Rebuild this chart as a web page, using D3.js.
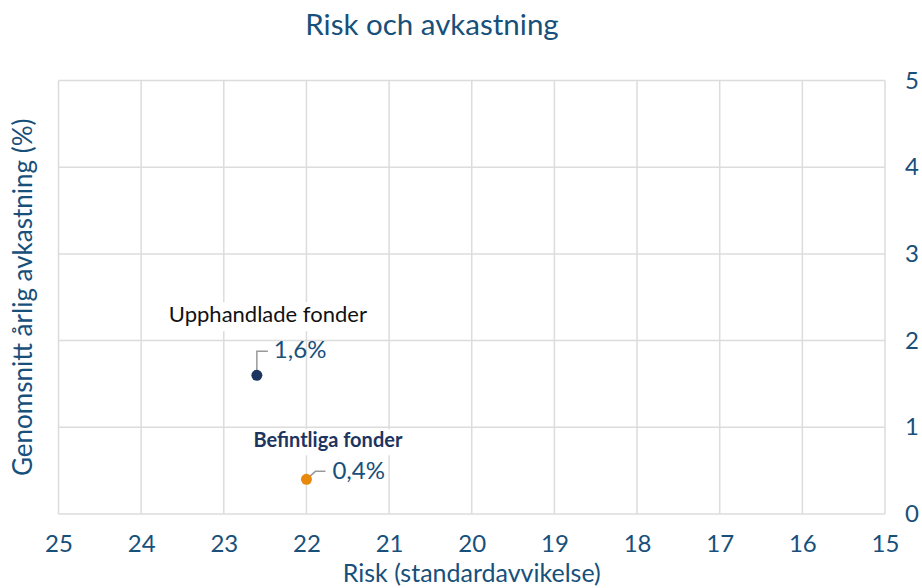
<!DOCTYPE html>
<html>
<head>
<meta charset="utf-8">
<script src="https://cdn.jsdelivr.net/npm/d3@7"></script>
<style>
  body { margin: 0; background: #fff; }
  text { font-family: Lato, "Noto Sans", sans-serif; }
</style>
</head>
<body>
<div id="chart"></div>
<script>
// Data
const funds   = ["Upphandlade fonder", "Befintliga fonder"];
const risk    = [22.6, 22.0];
const returns = [1.6, 0.4];
const valueLabels = ["1,6%", "0,4%"];
const xTicks = [25, 24, 23, 22, 21, 20, 19, 18, 17, 16, 15];
const yTicks = [0, 1, 2, 3, 4, 5];

const width  = 922;
const height = 588;
const margin = { top: 80.5, right: 37, bottom: 74, left: 58.5 };

const textColour = "#17507a";
const gridColour = "#dcdcdc";
const dotColours = ["#1d3461", "#e8890c"];

const svg = d3.select("#chart")
  .append("svg")
  .attr("width", width)
  .attr("height", height);

const x = d3.scaleLinear()
  .domain([25, 15])
  .range([margin.left, width - margin.right]);

const y = d3.scaleLinear()
  .domain([0, 5])
  .range([height - margin.bottom, margin.top]);

// Grid
svg.append("g")
  .selectAll("line")
  .data(xTicks)
  .join("line")
    .attr("x1", d => x(d)).attr("x2", d => x(d))
    .attr("y1", y(0)).attr("y2", y(5))
    .attr("stroke", gridColour)
    .attr("stroke-width", 1.5);

svg.append("g")
  .selectAll("line")
  .data(yTicks)
  .join("line")
    .attr("x1", x(25)).attr("x2", x(15))
    .attr("y1", d => y(d)).attr("y2", d => y(d))
    .attr("stroke", gridColour)
    .attr("stroke-width", 1.5);

// Axes (labels only)
const xAxis = svg.append("g")
  .attr("transform", `translate(0, ${y(0)})`)
  .call(d3.axisBottom(x).tickValues(xTicks).tickSize(0).tickPadding(21).tickFormat(d3.format("d")));

const yAxis = svg.append("g")
  .attr("transform", `translate(${x(15)}, 0)`)
  .call(d3.axisRight(y).tickValues(yTicks).tickSize(0).tickPadding(20).tickFormat(d3.format("d")));

[xAxis, yAxis].forEach(a => {
  a.select(".domain").remove();
  a.selectAll("text")
    .attr("fill", textColour)
    .style("font-family", "Lato, sans-serif")
    .style("font-size", "24px");
});

// Titles
svg.append("text")
  .attr("x", 432).attr("y", 35)
  .attr("text-anchor", "middle")
  .attr("fill", textColour)
  .style("font-size", "29.5px")
  .text("Risk och avkastning");

svg.append("text")
  .attr("x", (x(25) + x(15)) / 2).attr("y", 582)
  .attr("text-anchor", "middle")
  .attr("fill", textColour)
  .style("font-size", "25px")
  .text("Risk (standardavvikelse)");

svg.append("text")
  .attr("transform", `translate(32, ${(y(0) + y(5)) / 2}) rotate(-90)`)
  .attr("text-anchor", "middle")
  .attr("fill", textColour)
  .style("font-size", "26px")
  .text("Genomsnitt årlig avkastning (%)");

// Annotations
const points = funds.map((f, i) => ({ name: f, risk: risk[i], ret: returns[i], label: valueLabels[i], colour: dotColours[i] }));

// Name labels with white box behind
const nameStyle = [
  { dx: -88, dy: -53, size: "22px", weight: 400, fill: "#111" },
  { dx: -53, dy: -32, size: "20px", weight: 700, fill: "#1d3461" }
];

points.forEach((p, i) => {
  const s = nameStyle[i];
  const g = svg.append("g");
  const t = g.append("text")
    .attr("x", x(p.risk) + s.dx)
    .attr("y", y(p.ret) + s.dy)
    .attr("fill", s.fill)
    .style("font-size", s.size)
    .style("font-weight", s.weight)
    .text(p.name);
  const b = t.node().getBBox();
  g.insert("rect", "text")
    .attr("x", b.x - 2).attr("y", b.y + 2)
    .attr("width", b.width + 4).attr("height", b.height + 2)
    .attr("fill", "#fff");
});

// Leader lines
const leaders = [
  [[0, 0], [0, -24], [11, -24]],
  [[0, 0], [9, -8], [19, -8]]
];

points.forEach((p, i) => {
  svg.append("path")
    .attr("d", d3.line()(leaders[i].map(([dx, dy]) => [x(p.risk) + dx, y(p.ret) + dy])))
    .attr("fill", "none")
    .attr("stroke", "#999")
    .attr("stroke-width", 1.5);
});

const valueOffset = [[17, -17], [26, 0]];
svg.selectAll(".val")
  .data(points)
  .join("text")
    .attr("class", "val")
    .attr("x", (d, i) => x(d.risk) + valueOffset[i][0])
    .attr("y", (d, i) => y(d.ret) + valueOffset[i][1])
    .attr("fill", textColour)
    .style("font-size", "24px")
    .text(d => d.label);

svg.selectAll(".dot")
  .data(points)
  .join("circle")
    .attr("class", "dot")
    .attr("cx", d => x(d.risk))
    .attr("cy", d => y(d.ret))
    .attr("r", 5.5)
    .attr("fill", d => d.colour);
</script>
</body>
</html>
